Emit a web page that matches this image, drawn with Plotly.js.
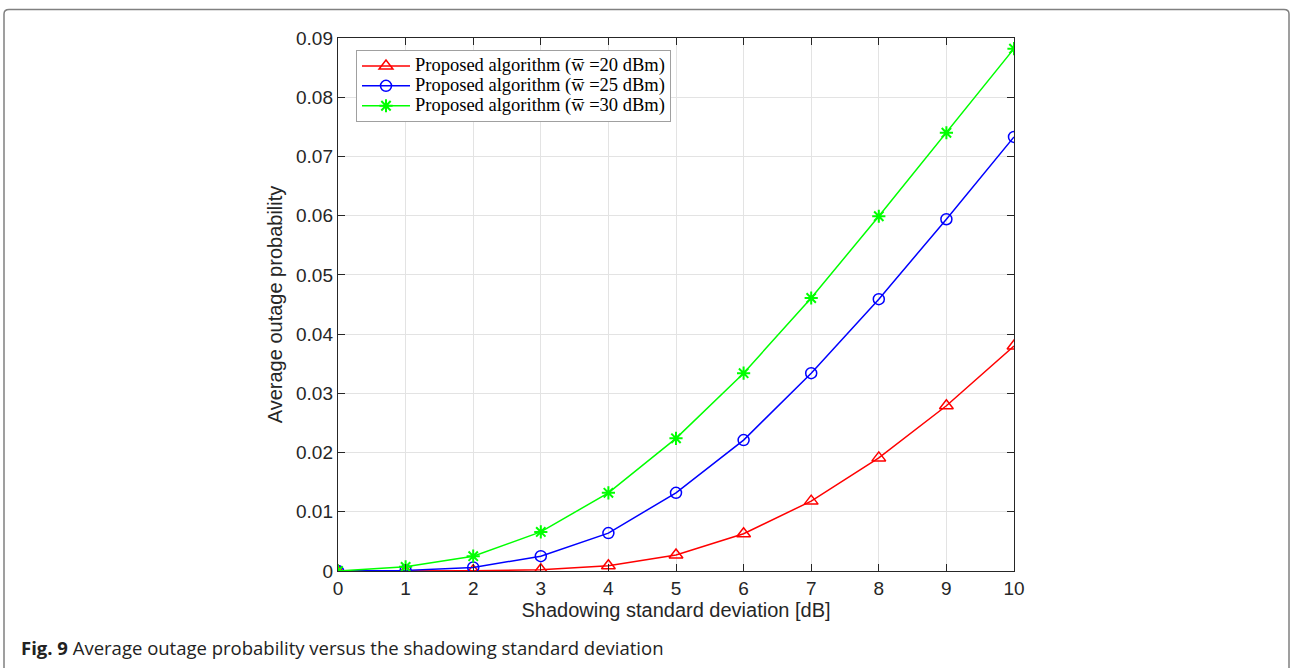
<!DOCTYPE html>
<html>
<head>
<meta charset="utf-8">
<script src="https://cdn.plot.ly/plotly-3.0.1.min.js"></script>
<style>
html,body{margin:0;padding:0;background:#fff;}
#chart{width:1290px;height:668px;}
</style>
</head>
<body>
<div id="chart"></div>
<script>
// Data
const sigma = [0, 1, 2, 3, 4, 5, 6, 7, 8, 9, 10];
const p20 = [0, 0.00002, 0.00005, 0.0002, 0.0009, 0.0027, 0.0063, 0.0118, 0.0191, 0.0279, 0.0380];
const p25 = [0, 0.0001, 0.0006, 0.0025, 0.0064, 0.0132, 0.0221, 0.0334, 0.0459, 0.0594, 0.0733];
const p30 = [0, 0.0007, 0.0025, 0.0066, 0.0132, 0.0224, 0.0334, 0.0461, 0.0599, 0.0740, 0.0882];
const seriesNames = [
  'Proposed algorithm (w\u0305 =20 dBm)',
  'Proposed algorithm (w\u0305 =25 dBm)',
  'Proposed algorithm (w\u0305 =30 dBm)'
];
const xTicks = [0,1,2,3,4,5,6,7,8,9,10];
const yTicks = [0,0.01,0.02,0.03,0.04,0.05,0.06,0.07,0.08,0.09];
const yTickText = ['0','0.01','0.02','0.03','0.04','0.05','0.06','0.07','0.08','0.09'];

const W = 1290, H = 668;
const L = 338, R = 276, T = 38, B = 97;
const pw = W - L - R, ph = H - T - B;
function px(x){ return (x - L) / pw; }
function py(y){ return (H - B - y) / ph; }
function big(s){ return '<span style="font-size:18.5px">' + s + '</span>'; }

const traces = [
  {x: sigma, y: p20, name: big(seriesNames[0]), mode: 'lines+markers',
   line: {color: '#ff0000', width: 1.5},
   marker: {symbol: 'triangle-up-open', size: 12, color: '#ff0000', line: {width: 1.5}}},
  {x: sigma, y: p25, name: big(seriesNames[1]), mode: 'lines+markers',
   line: {color: '#0000ff', width: 1.5},
   marker: {symbol: 'circle-open', size: 11, color: '#0000ff', line: {width: 1.5}}},
  {x: sigma, y: p30, name: big(seriesNames[2]), mode: 'lines+markers',
   line: {color: '#00ff00', width: 1.5},
   marker: {symbol: 'asterisk-open', size: 11, color: '#00ff00', line: {width: 2, color: '#00ff00'}}}
];

const axisCommon = {
  showline: true, linecolor: '#262626', linewidth: 1.2, mirror: 'ticks',
  ticks: 'inside', ticklen: 7, tickcolor: '#262626', tickwidth: 1,
  showgrid: true, gridcolor: '#e3e3e3', gridwidth: 1, zeroline: false,
  tickfont: {family: 'Liberation Sans, Arial, sans-serif', size: 19, color: '#262626'}
};

const layout = {
  width: W, height: H,
  margin: {l: L, r: R, t: T, b: B, pad: 0},
  paper_bgcolor: '#fff', plot_bgcolor: '#fff',
  showlegend: true,
  legend: {
    x: px(356), y: py(50), xanchor: 'left', yanchor: 'top',
    bgcolor: '#fff', bordercolor: '#a0a0a0', borderwidth: 1,
    font: {family: 'Liberation Serif, Times New Roman, serif', size: 13, color: '#000'},
    tracegroupgap: 0, itemwidth: 48
  },
  xaxis: Object.assign({}, axisCommon, {
    range: [0, 10], tickvals: xTicks, ticktext: xTicks.map(String),
    title: {text: 'Shadowing standard deviation [dB]', standoff: 2,
      font: {family: 'Liberation Sans, Arial, sans-serif', size: 20, color: '#262626'}}
  }),
  yaxis: Object.assign({}, axisCommon, {
    range: [0, 0.09], tickvals: yTicks, ticktext: yTickText,
    title: {text: 'Average outage probability', standoff: 8,
      font: {family: 'Liberation Sans, Arial, sans-serif', size: 20, color: '#262626'}}
  }),
  shapes: [
    {type: 'path', xref: 'paper', yref: 'paper', layer: 'below',
     path: 'M ' + px(4) + ' ' + py(680) + ' L ' + px(4) + ' ' + py(14) +
           ' Q ' + px(4) + ' ' + py(9.5) + ' ' + px(9) + ' ' + py(9.5) +
           ' L ' + px(1284) + ' ' + py(9.5) +
           ' Q ' + px(1289) + ' ' + py(9.5) + ' ' + px(1289) + ' ' + py(14) +
           ' L ' + px(1289) + ' ' + py(680),
     line: {color: '#808080', width: 1.5}}
  ],
  annotations: [
    {xref: 'paper', yref: 'paper', x: px(19), y: py(647), xanchor: 'left', yanchor: 'middle',
     showarrow: false, align: 'left',
     text: '<b>Fig. 9</b> Average outage probability versus the shadowing standard deviation',
     font: {family: 'Open Sans, Noto Sans, sans-serif', size: 18.5, color: '#222'}}
  ]
};

Plotly.newPlot('chart', traces, layout, {displayModeBar: false, staticPlot: true});
</script>
</body>
</html>
